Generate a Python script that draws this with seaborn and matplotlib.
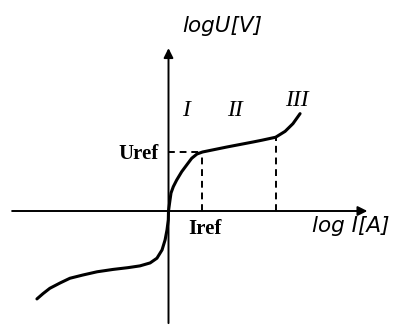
import matplotlib
matplotlib.use("Agg")
import matplotlib.pyplot as plt
import seaborn as sns
import pandas as pd

# Characteristic curve (log I vs log U), arbitrary units: Iref = 1, Uref = 1
log_i = [-3.87, -3.69, -3.49, -3.19, -2.90, -2.52, -2.10, -1.63, -1.19, -0.84,
         -0.54, -0.34, -0.19, -0.10, -0.044, -0.006, 0.0, 0.044, 0.074, 0.141,
         0.241, 0.388, 0.535, 0.682, 0.838, 1.0, 1.72, 2.49, 2.75, 3.15,
         3.43, 3.66, 3.87]
log_u = [-1.49, -1.40, -1.31, -1.22, -1.14, -1.085, -1.03, -0.99, -0.96, -0.93,
         -0.88, -0.80, -0.66, -0.49, -0.32, -0.15, 0.0, 0.186, 0.305, 0.412,
         0.525, 0.666, 0.78, 0.893, 0.966, 1.0, 1.085, 1.17, 1.20, 1.25,
         1.35, 1.48, 1.65]

iref, uref = 1.0, 1.0          # end of region I
i_23, u_23 = 3.15, 1.25        # boundary between regions II and III
region_labels = ["I", "II", "III"]
region_label_x = [0.52, 1.96, 3.78]
region_label_y = [1.71, 1.71, 1.88]

sns.set_style("white")
fig = plt.figure(figsize=(3.95, 3.25), dpi=100)
ax = fig.add_axes([0, 0, 1, 1])
ax.set_xlim(-4.956, 6.662)
ax.set_ylim(-1.932, 3.576)
ax.axis("off")

df = pd.DataFrame({"logI": log_i, "logU": log_u})
sns.lineplot(data=df, x="logI", y="logU", sort=False, estimator=None,
             color="black", lw=2.2, ax=ax, solid_joinstyle="round",
             solid_capstyle="round")

# axes with arrows
ax.annotate("", xy=(5.85, 0), xytext=(-4.6, 0),
            arrowprops=dict(arrowstyle="-|>", color="black", lw=1.4,
                            mutation_scale=14, shrinkA=0, shrinkB=0))
ax.annotate("", xy=(0, 2.76), xytext=(0, -1.9),
            arrowprops=dict(arrowstyle="-|>", color="black", lw=1.4,
                            mutation_scale=14, shrinkA=0, shrinkB=0))

# dashed reference lines
dash = dict(color="black", lw=1.4, ls=(0, (3.5, 2.5)))
ax.plot([0, iref], [uref, uref], **dash)
ax.plot([iref, iref], [0, uref], **dash)
ax.plot([i_23, i_23], [0, u_23], **dash)

serif = "Liberation Serif"
ax.text(-0.3, uref - 0.04, "Uref", family=serif, weight="bold", fontsize=15,
        ha="right", va="center", color="black")
ax.text(iref + 0.07, -0.30, "Iref", family=serif, weight="bold", fontsize=15,
        ha="center", va="center", color="black")
for lab, x, y in zip(region_labels, region_label_x, region_label_y):
    ax.text(x, y, lab, family=serif, style="italic", fontsize=17,
            ha="center", va="center", color="black")

ax.text(1.58, 3.13, "logU[V]", family="DejaVu Sans", style="italic",
        fontsize=15.5, ha="center", va="center", color="black")
ax.text(5.35, -0.25, "log I[A]", family="DejaVu Sans", style="italic",
        fontsize=15.5, ha="center", va="center", color="black")

fig.savefig("out.png", dpi=100)
